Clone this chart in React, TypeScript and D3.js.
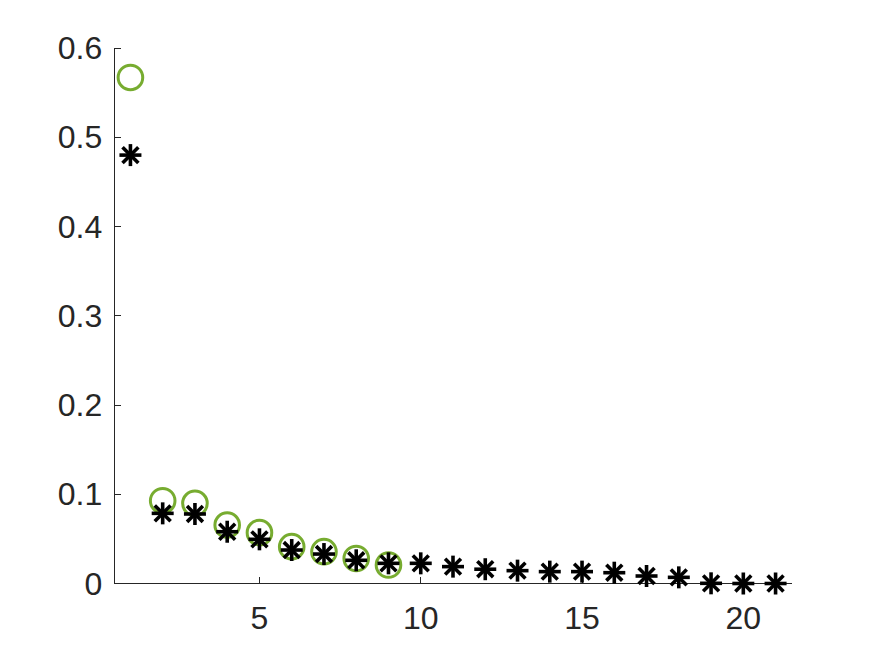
import React from "react";
import * as d3 from "d3";

const circleX = [1, 2, 3, 4, 5, 6, 7, 8, 9];
const circleY = [0.567, 0.0928, 0.0899, 0.0655, 0.057, 0.0413, 0.0357, 0.028, 0.0207];
const starX = [1, 2, 3, 4, 5, 6, 7, 8, 9, 10, 11, 12, 13, 14, 15, 16, 17, 18, 19, 20, 21];
const starY = [0.48, 0.0786, 0.0779, 0.058, 0.0495, 0.0375, 0.033, 0.026, 0.0226, 0.0226, 0.0189, 0.016, 0.0144, 0.0133, 0.0133, 0.0121, 0.0084, 0.0069, 0.0002, 0.0, 0.0];
const xTicks = [5, 10, 15, 20];
const yTicks = [0, 0.1, 0.2, 0.3, 0.4, 0.5, 0.6];

const W = 875;
const H = 656;
const axisColor = "#262626";
const green = "#77AC30";
const font = "'Liberation Sans', Arial, Helvetica, sans-serif";

export default function App() {
  const x = d3.scaleLinear().domain([0.5, 21.5]).range([114.3, 791.7]);
  const y = d3.scaleLinear().domain([0, 0.6]).range([583.5, 48]);
  const h = 11;
  const d = h * 0.72;
  return (
    <svg width={W} height={H} style={{ position: "absolute", left: 0, top: 0, background: "#fff" }}>
      <rect x={0} y={0} width={W} height={H} fill="#fff" />
      {/* axes */}
      <g stroke={axisColor} strokeWidth={1} fill="none" shapeRendering="crispEdges">
        <line x1={x(0.5)} x2={x(0.5)} y1={y(0.6)} y2={y(0)} />
        <line x1={x(0.5)} x2={x(21.5)} y1={y(0)} y2={y(0)} />
        {yTicks.map((t) => (
          <line key={"yt" + t} x1={x(0.5)} x2={x(0.5) + 6.5} y1={y(t)} y2={y(t)} />
        ))}
        {xTicks.map((t) => (
          <line key={"xt" + t} x1={x(t)} x2={x(t)} y1={y(0)} y2={y(0) - 6.5} />
        ))}
      </g>
      <g fill={axisColor} fontFamily={font} fontSize={32}>
        {yTicks.map((t) => (
          <text key={"yl" + t} x={x(0.5) - 12} y={y(t)} textAnchor="end" dominantBaseline="central">
            {d3.format("")(t)}
          </text>
        ))}
        {xTicks.map((t) => (
          <text key={"xl" + t} x={x(t)} y={y(0) + 45} textAnchor="middle">
            {t}
          </text>
        ))}
      </g>
      {/* circles */}
      <g fill="none" stroke={green} strokeWidth={3}>
        {circleX.map((cx, i) => (
          <circle key={"c" + i} cx={x(cx)} cy={y(circleY[i])} r={12.3} />
        ))}
      </g>
      {/* stars */}
      <g stroke="#000" strokeWidth={3.6} fill="none">
        {starX.map((sx, i) => {
          const px = x(sx);
          const py = y(starY[i]);
          return (
            <g key={"s" + i}>
              <line x1={px - h} x2={px + h} y1={py} y2={py} />
              <line x1={px} x2={px} y1={py - h} y2={py + h} />
              <line x1={px - d} x2={px + d} y1={py - d} y2={py + d} />
              <line x1={px - d} x2={px + d} y1={py + d} y2={py - d} />
            </g>
          );
        })}
      </g>
    </svg>
  );
}
